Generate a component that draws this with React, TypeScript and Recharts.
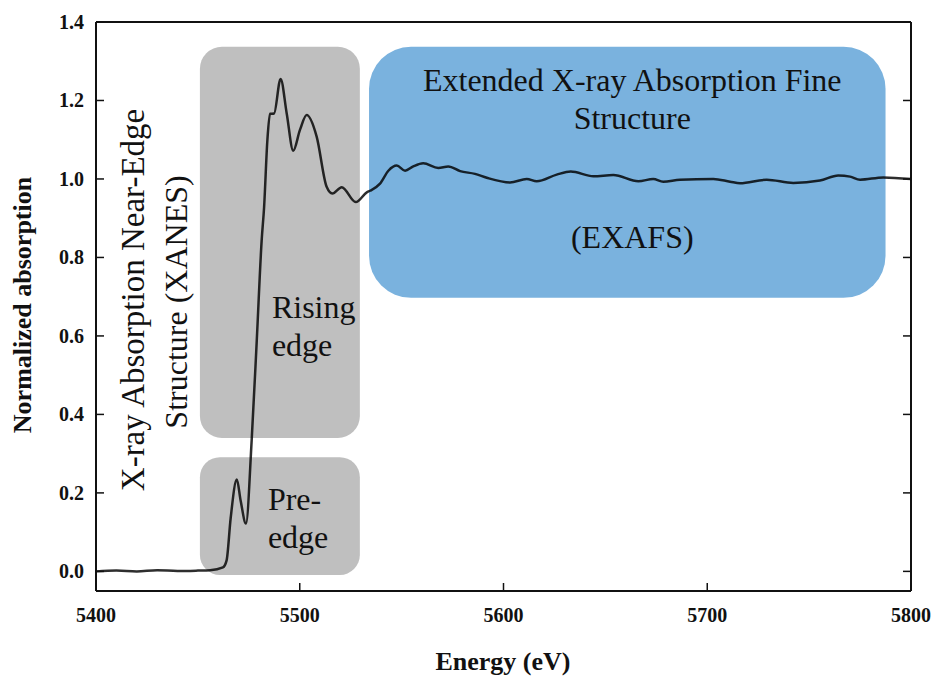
import { LineChart, Line, XAxis, YAxis, ReferenceArea, ReferenceLine } from 'recharts'

// Normalized Ti K-edge style XAS spectrum
const ENERGY = [
  5400, 5410, 5420, 5430, 5440, 5450, 5456, 5462.3, 5464.1, 5466.1, 5469.1, 5471, 5473.6,
  5476.4, 5478.9, 5481.3, 5482.5, 5484.1, 5485.4, 5487.4, 5490.6, 5493.6, 5496.8, 5500.1,
  5503.4, 5508.3, 5513.2, 5516, 5520.6, 5527.5, 5532.9, 5534.5, 5539.4, 5543.5, 5547.6,
  5551.7, 5555.7, 5560.6, 5568, 5572.9, 5578.7, 5586, 5591.8, 5603.2, 5611.4, 5616.3,
  5626.1, 5633, 5644.1, 5653.9, 5666.2, 5673.5, 5678.4, 5686.6, 5703, 5711.2, 5716.1,
  5729.2, 5742.2, 5755.3, 5764.3, 5770.1, 5775, 5786.4, 5800,
]
const ABSORPTION = [
  0.0, 0.002, 0.0, 0.003, 0.001, 0.002, 0.003, 0.01, 0.028, 0.136, 0.234, 0.18, 0.122,
  0.334, 0.588, 0.843, 0.928, 1.098, 1.166, 1.167, 1.255, 1.167, 1.072, 1.125,
  1.163, 1.108, 0.98, 0.963, 0.979, 0.941, 0.966, 0.97, 0.988, 1.021, 1.034,
  1.021, 1.032, 1.04, 1.028, 1.032, 1.02, 1.013, 1.003, 0.991, 1.0, 0.994,
  1.011, 1.019, 1.007, 1.01, 0.994, 1.0, 0.993, 0.998, 1.0, 0.993, 0.989,
  0.998, 0.99, 0.996, 1.009, 1.006, 0.998, 1.004, 1.0,
]
const X_TICKS = [5400, 5500, 5600, 5700, 5800]
const Y_TICKS = [0, 0.2, 0.4, 0.6, 0.8, 1.0, 1.2, 1.4]

const data = ENERGY.map((e, i) => ({ e, mu: ABSORPTION[i] }))

const SERIF = "'Liberation Serif', 'Times New Roman', serif"
const LEFT = 96
const RIGHT = 911
const BOTTOM = 591

const tickText = { fontFamily: SERIF, fontWeight: 700, fontSize: 20 }
const titleText = { fontFamily: SERIF, fontWeight: 700, fontSize: 26 }
const noteText = { fontFamily: SERIF, fontSize: 32 }

function YTick({ y, payload }: any) {
  return (
    <g>
      <line x1={LEFT} x2={LEFT + 8} y1={y} y2={y} stroke="#111" strokeWidth={1.5} />
      <line x1={RIGHT - 8} x2={RIGHT} y1={y} y2={y} stroke="#111" strokeWidth={1.5} />
      <text x={84} y={y + 7} textAnchor="end" style={tickText} fill="#111">
        {payload.value.toFixed(1)}
      </text>
    </g>
  )
}

function XTick({ x, payload }: any) {
  return (
    <g>
      <line x1={x} x2={x} y1={BOTTOM} y2={BOTTOM - 8} stroke="#111" strokeWidth={1.5} />
      <text x={x} y={622} textAnchor="middle" style={tickText} fill="#111">
        {payload.value}
      </text>
    </g>
  )
}

function RisingBox({ x, y, width, height }: any) {
  return (
    <g>
      <rect x={x} y={y} width={width} height={height} rx={22} fill="#bfbfbf" />
      <text style={noteText} fill="#111">
        <tspan x={x + 72} y={318}>Rising</tspan>
        <tspan x={x + 72} y={356}>edge</tspan>
      </text>
      <g transform={`rotate(-90 ${x - 56} 300)`}>
        <text x={x - 56} y={300} textAnchor="middle" style={{ ...noteText, fontSize: 33 }} fill="#111">
          X-ray Absorption Near-Edge
        </text>
        <text x={x - 58} y={343} textAnchor="middle" style={noteText} fill="#111">
          Structure (XANES)
        </text>
      </g>
    </g>
  )
}

function PreEdgeBox({ x, y, width, height }: any) {
  return (
    <g>
      <rect x={x} y={y} width={width} height={height} rx={20} fill="#bfbfbf" />
      <text style={noteText} fill="#111">
        <tspan x={x + 68} y={510}>Pre-</tspan>
        <tspan x={x + 68} y={548}>edge</tspan>
      </text>
    </g>
  )
}

function ExafsBox({ x, y, width, height }: any) {
  const cx = x + width / 2 + 5
  return (
    <g>
      <rect x={x} y={y} width={width} height={height} rx={42} fill="#7ab2de" />
      <text textAnchor="middle" style={noteText} fill="#111">
        <tspan x={cx} y={91}>Extended X-ray Absorption Fine</tspan>
        <tspan x={cx} y={129}>Structure</tspan>
        <tspan x={cx} y={248}>(EXAFS)</tspan>
      </text>
    </g>
  )
}

export default function App() {
  return (
    <div style={{ position: 'absolute', left: 0, top: 0, width: 935, height: 677, background: '#fff' }}>
      <LineChart width={935} height={677} data={data} margin={{ top: 22, right: 24, left: 36, bottom: 56 }}>
        <XAxis
          dataKey="e"
          type="number"
          domain={[5400, 5800]}
          ticks={X_TICKS}
          allowDataOverflow
          height={30}
          tickSize={0}
          tickMargin={0}
          tickLine={false}
          tick={<XTick />}
          axisLine={{ stroke: '#111', strokeWidth: 2 }}
        />
        <YAxis
          type="number"
          domain={[-0.05, 1.4]}
          ticks={Y_TICKS}
          allowDataOverflow
          width={60}
          tickSize={0}
          tickMargin={0}
          tickLine={false}
          tick={<YTick />}
          axisLine={{ stroke: '#111', strokeWidth: 2 }}
        />
        <ReferenceLine y={1.4} stroke="#111" strokeWidth={2} />
        <ReferenceLine x={5800} stroke="#111" strokeWidth={2} />
        <ReferenceArea x1={5451} x2={5529.5} y1={0.34} y2={1.337} shape={<RisingBox />} />
        <ReferenceArea x1={5451} x2={5529.5} y1={-0.009} y2={0.291} shape={<PreEdgeBox />} />
        <ReferenceArea x1={5534} x2={5787.5} y1={0.697} y2={1.337} shape={<ExafsBox />} />
        <Line
          type="monotone"
          dataKey="mu"
          stroke="#000"
          strokeOpacity={0.82}
          strokeWidth={2.5}
          dot={false}
          isAnimationActive={false}
        />
        <text x={503} y={670} textAnchor="middle" style={titleText} fill="#111">
          Energy (eV)
        </text>
        <text x={31} y={305} transform="rotate(-90 31 305)" textAnchor="middle" style={titleText} fill="#111">
          Normalized absorption
        </text>
      </LineChart>
    </div>
  )
}
